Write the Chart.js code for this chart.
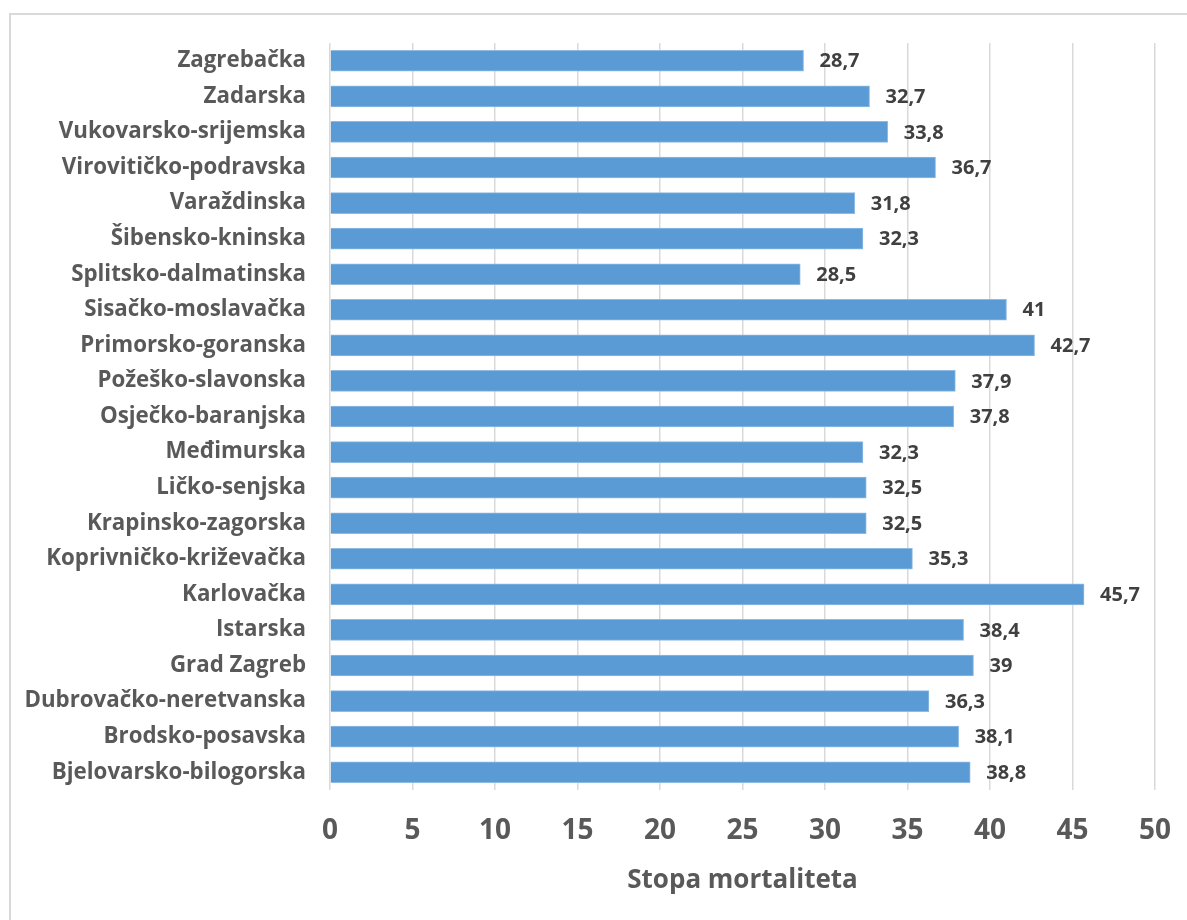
<!DOCTYPE html>
<html>
<head>
<meta charset="utf-8">
<script src="https://cdn.jsdelivr.net/npm/chart.js@4.4.0/dist/chart.umd.min.js"></script>
<style>
  html, body { margin: 0; padding: 0; background: #ffffff; overflow: hidden; }
  #wrap { position: relative; width: 1187px; height: 920px; }
  #frame { position: absolute; left: 9px; top: 13px; width: 1300px; height: 1000px; border: 2px solid #d9d9d9; box-sizing: border-box; }
  canvas { position: absolute; left: 0; top: 0; }
</style>
</head>
<body>
<div id="wrap">
  <div id="frame"></div>
  <canvas id="c" width="1187" height="920"></canvas>
</div>
<script>
const categories = [
  "Zagrebačka", "Zadarska", "Vukovarsko-srijemska", "Virovitičko-podravska",
  "Varaždinska", "Šibensko-kninska", "Splitsko-dalmatinska", "Sisačko-moslavačka",
  "Primorsko-goranska", "Požeško-slavonska", "Osječko-baranjska", "Međimurska",
  "Ličko-senjska", "Krapinsko-zagorska", "Koprivničko-križevačka", "Karlovačka",
  "Istarska", "Grad Zagreb", "Dubrovačko-neretvanska", "Brodsko-posavska",
  "Bjelovarsko-bilogorska"
];
const mortalityRate = [
  28.7, 32.7, 33.8, 36.7, 31.8, 32.3, 28.5, 41, 42.7, 37.9, 37.8, 32.3,
  32.5, 32.5, 35.3, 45.7, 38.4, 39, 36.3, 38.1, 38.8
];
const xTicks = [0, 5, 10, 15, 20, 25, 30, 35, 40, 45, 50];
const axisTitle = "Stopa mortaliteta";

const FONT = "'Open Sans', 'DejaVu Sans', sans-serif";

const valueLabels = {
  id: 'valueLabels',
  afterDatasetsDraw(chart) {
    const ctx = chart.ctx;
    const meta = chart.getDatasetMeta(0);
    ctx.save();
    ctx.font = "bold 20px " + FONT;
    ctx.fillStyle = '#404040';
    ctx.textAlign = 'left';
    ctx.textBaseline = 'middle';
    meta.data.forEach((bar, i) => {
      const txt = String(mortalityRate[i]).replace('.', ',');
      ctx.fillText(txt, bar.x + 16, bar.y + 1);
    });
    ctx.restore();
  }
};

new Chart(document.getElementById('c'), {
  type: 'bar',
  data: {
    labels: categories,
    datasets: [{
      data: mortalityRate,
      backgroundColor: '#5b9bd5',
      borderColor: '#8fbbe3',
      borderWidth: 1,
      barThickness: 21
    }]
  },
  options: {
    indexAxis: 'y',
    responsive: false,
    animation: false,
    devicePixelRatio: 1,
    layout: { padding: { left: 0, right: 32, top: 43, bottom: 0 } },
    plugins: { legend: { display: false }, tooltip: { enabled: false } },
    scales: {
      x: {
        min: 0, max: 50,
        afterBuildTicks(scale) { scale.ticks = xTicks.map(v => ({ value: v })); },
        afterFit(scale) { scale.height = 130; },
        grid: { color: '#d9d9d9', lineWidth: 1.5, drawTicks: true, tickLength: 24, tickColor: 'rgba(0,0,0,0)' },
        border: { display: false },
        ticks: { padding: 0, color: '#595959', font: { family: FONT, size: 28, weight: 'bold' } },
        title: {
          display: true, text: axisTitle, color: '#595959',
          font: { family: FONT, size: 26, weight: 'bold' },
          padding: { top: 0, bottom: 24 }
        }
      },
      y: {
        afterFit(scale) { scale.width = 330; },
        grid: { display: false, drawTicks: false },
        border: { display: false },
        ticks: { padding: 24, color: '#595959', font: { family: FONT, size: 22.3, weight: 'bold' } }
      }
    }
  },
  plugins: [valueLabels]
});
</script>
</body>
</html>
